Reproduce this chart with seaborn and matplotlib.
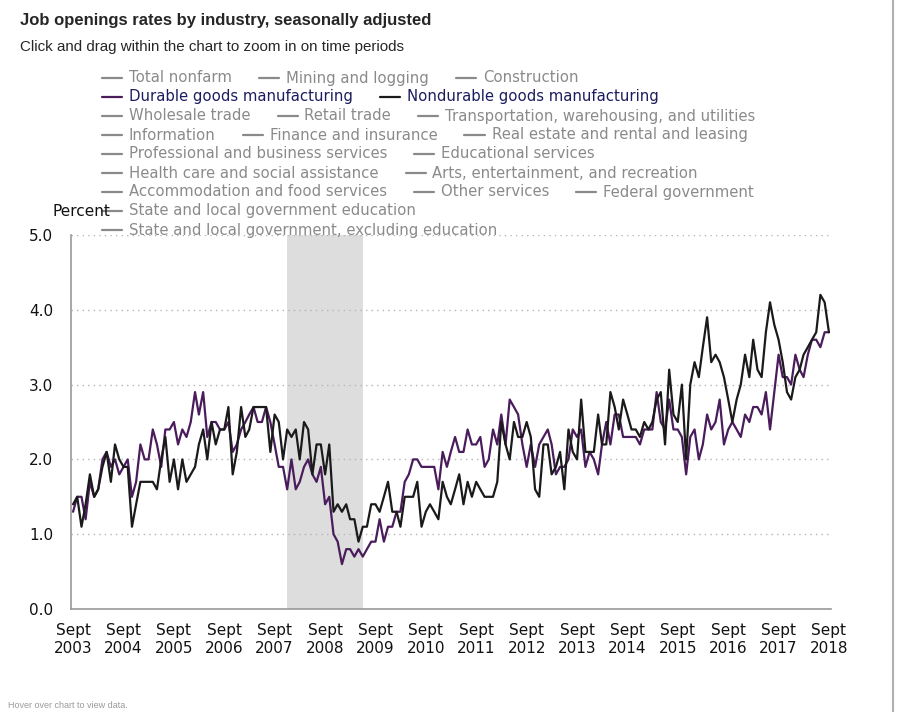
import numpy as np
import pandas as pd
import matplotlib.pyplot as plt
import matplotlib.lines as mlines
import seaborn as sns

# monthly rates, Sept 2003 - Sept 2018
months = pd.date_range('2003-09-01', periods=181, freq='MS')

durable = [
    1.3, 1.5, 1.5, 1.2, 1.7, 1.5, 1.6, 2.0, 2.1, 1.9, 2.0, 1.8,
    1.9, 2.0, 1.5, 1.7, 2.2, 2.0, 2.0, 2.4, 2.2, 1.9, 2.4, 2.4,
    2.5, 2.2, 2.4, 2.3, 2.5, 2.9, 2.6, 2.9, 2.3, 2.5, 2.5, 2.4,
    2.4, 2.5, 2.1, 2.2, 2.4, 2.5, 2.6, 2.7, 2.5, 2.5, 2.7, 2.5,
    2.2, 1.9, 1.9, 1.6, 2.0, 1.6, 1.7, 1.9, 2.0, 1.8, 1.7, 1.9,
    1.4, 1.5, 1.0, 0.9, 0.6, 0.8, 0.8, 0.7, 0.8, 0.7, 0.8, 0.9,
    0.9, 1.2, 0.9, 1.1, 1.1, 1.3, 1.3, 1.7, 1.8, 2.0, 2.0, 1.9,
    1.9, 1.9, 1.9, 1.6, 2.1, 1.9, 2.1, 2.3, 2.1, 2.1, 2.4, 2.2,
    2.2, 2.3, 1.9, 2.0, 2.4, 2.2, 2.6, 2.2, 2.8, 2.7, 2.6, 2.2,
    1.9, 2.2, 1.9, 2.2, 2.3, 2.4, 2.2, 1.8, 1.9, 1.9, 2.0, 2.4,
    2.3, 2.4, 1.9, 2.1, 2.0, 1.8, 2.2, 2.5, 2.2, 2.6, 2.6, 2.3,
    2.3, 2.3, 2.3, 2.2, 2.4, 2.4, 2.4, 2.9, 2.5, 2.4, 2.8, 2.4,
    2.4, 2.3, 1.8, 2.3, 2.4, 2.0, 2.2, 2.6, 2.4, 2.5, 2.8, 2.2,
    2.4, 2.5, 2.4, 2.3, 2.6, 2.5, 2.7, 2.7, 2.6, 2.9, 2.4, 2.9,
    3.4, 3.1, 3.1, 3.0, 3.4, 3.2, 3.1, 3.4, 3.6, 3.6, 3.5, 3.7, 3.7,
]

nondurable = [
    1.4, 1.5, 1.1, 1.4, 1.8, 1.5, 1.6, 1.9, 2.1, 1.7, 2.2, 2.0,
    1.9, 1.9, 1.1, 1.4, 1.7, 1.7, 1.7, 1.7, 1.6, 2.0, 2.3, 1.7,
    2.0, 1.6, 2.0, 1.7, 1.8, 1.9, 2.2, 2.4, 2.0, 2.5, 2.2, 2.4,
    2.4, 2.7, 1.8, 2.1, 2.7, 2.3, 2.4, 2.7, 2.7, 2.7, 2.7, 2.1,
    2.6, 2.5, 2.0, 2.4, 2.3, 2.4, 2.0, 2.5, 2.4, 1.8, 2.2, 2.2,
    1.8, 2.2, 1.3, 1.4, 1.3, 1.4, 1.2, 1.2, 0.9, 1.1, 1.1, 1.4,
    1.4, 1.3, 1.5, 1.7, 1.3, 1.3, 1.1, 1.5, 1.5, 1.5, 1.7, 1.1,
    1.3, 1.4, 1.3, 1.2, 1.7, 1.5, 1.4, 1.6, 1.8, 1.4, 1.7, 1.5,
    1.7, 1.6, 1.5, 1.5, 1.5, 1.7, 2.5, 2.2, 2.0, 2.5, 2.3, 2.3,
    2.5, 2.3, 1.6, 1.5, 2.2, 2.2, 1.8, 1.9, 2.1, 1.6, 2.4, 2.1,
    2.0, 2.8, 2.1, 2.1, 2.1, 2.6, 2.2, 2.2, 2.9, 2.7, 2.4, 2.8,
    2.6, 2.4, 2.4, 2.3, 2.5, 2.4, 2.5, 2.8, 2.9, 2.2, 3.2, 2.6,
    2.5, 3.0, 2.0, 3.0, 3.3, 3.1, 3.5, 3.9, 3.3, 3.4, 3.3, 3.1,
    2.8, 2.5, 2.8, 3.0, 3.4, 3.1, 3.6, 3.2, 3.1, 3.7, 4.1, 3.8,
    3.6, 3.3, 2.9, 2.8, 3.1, 3.2, 3.4, 3.5, 3.6, 3.7, 4.2, 4.1, 3.7,
]

recession = ('2007-12-01', '2009-06-01')

legend_rows = [
    ['Total nonfarm', 'Mining and logging', 'Construction'],
    ['Durable goods manufacturing', 'Nondurable goods manufacturing'],
    ['Wholesale trade', 'Retail trade', 'Transportation, warehousing, and utilities'],
    ['Information', 'Finance and insurance', 'Real estate and rental and leasing'],
    ['Professional and business services', 'Educational services'],
    ['Health care and social assistance', 'Arts, entertainment, and recreation'],
    ['Accommodation and food services', 'Other services', 'Federal government'],
    ['State and local government education'],
    ['State and local government, excluding education'],
]
active = {'Durable goods manufacturing': '#4a1c5c',
          'Nondurable goods manufacturing': '#1a1a1a'}

sns.set_style('white')
plt.rcParams['font.family'] = ['DejaVu Sans']

df = pd.DataFrame({
    'date': list(months) * 2,
    'rate': durable + nondurable,
    'series': ['Durable goods manufacturing'] * len(durable)
              + ['Nondurable goods manufacturing'] * len(nondurable),
})

W, H = 899, 712
fig = plt.figure(figsize=(W / 100, H / 100), dpi=100)
ax = fig.add_axes([71 / W, 103 / H, 760 / W, 374 / H])

ax.axvspan(pd.Timestamp(recession[0]), pd.Timestamp(recession[1]),
           color='#dddddd', lw=0, zorder=0)
sns.lineplot(data=df, x='date', y='rate', hue='series', palette=active,
             linewidth=1.6, ax=ax, legend=False)

ax.set_ylim(0, 5)
ax.set_yticks(np.arange(0, 5.5, 1.0))
ax.set_yticklabels([f'{v:.1f}' for v in np.arange(0, 5.5, 1.0)])
ax.set_xlim(months[0] - pd.Timedelta(days=15), months[-1] + pd.Timedelta(days=15))
xt = pd.date_range('2003-09-01', '2018-09-01', freq='12MS')
ax.set_xticks(xt)
ax.set_xticklabels([f'Sept\n{d.year}' for d in xt])
ax.set_xlabel('')
ax.set_ylabel('')
ax.yaxis.grid(True, linestyle=(0, (1, 3)), color='#b5b5b5', lw=1)
ax.xaxis.grid(False)
for s in ['top', 'right']:
    ax.spines[s].set_visible(False)
for s in ['left', 'bottom']:
    ax.spines[s].set_color('#999999')
    ax.spines[s].set_linewidth(1.2)
ax.tick_params(axis='both', direction='out', color='#cccccc',
               labelsize=11, labelcolor='#111111', width=1)
ax.tick_params(axis='y', length=9, pad=4)
ax.tick_params(axis='x', length=7.5, pad=2.5)
for lab in ax.get_xticklabels():
    lab.set_linespacing(1.25)

fig.text(53 / W, 1 - 211 / H, 'Percent', fontsize=11, va='center', color='#111111')

fig.text(20 / W, 1 - 20 / H, 'Job openings rates by industry, seasonally adjusted',
         fontsize=12, fontweight='bold', family='Liberation Sans', va='center')
fig.text(20 / W, 1 - 47 / H, 'Click and drag within the chart to zoom in on time periods',
         fontsize=10.9, family='Liberation Sans', va='center')

# legend laid out row by row like the original
renderer = fig.canvas.get_renderer()
for r, row in enumerate(legend_rows):
    y = 1 - (78 + 19 * r) / H
    x = 102
    for name in row:
        lc = active.get(name, '#8a8a8a')
        tc = '#1c1c5e' if name in active else '#8a8a8a'
        fig.add_artist(mlines.Line2D([x / W, (x + 20) / W], [y, y], color=lc, lw=1.6))
        t = fig.text((x + 27) / W, y, name, color=tc, fontsize=10.7, va='center')
        w = t.get_window_extent(renderer).width
        x = x + 27 + w + 27

fig.add_artist(mlines.Line2D([893 / W, 893 / W], [0, 1], color='#b0b0b0', lw=1.5))
fig.text(8 / W, 1 - 706 / H, 'Hover over chart to view data.', fontsize=6.5,
         color='#9a9a9a', va='center', family='Liberation Sans')

fig.savefig('out.png', dpi=100)
